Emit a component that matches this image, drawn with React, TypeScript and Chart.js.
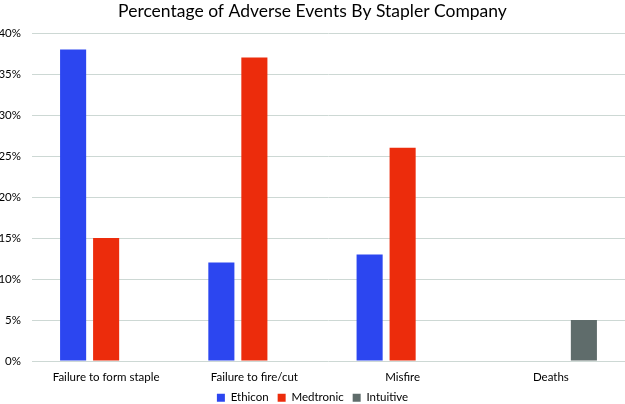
import React, { useEffect, useRef } from "react";
import { Chart, registerables } from "chart.js";

Chart.register(...registerables);

const categories = ["Failure to form staple", "Failure to fire/cut", "Misfire", "Deaths"];
const ethicon = [38, 12, 13, null];
const medtronic = [15, 37, 26, null];
const intuitive = [null, null, null, 5];
const yMin = 0;
const yMax = 40;
const yStep = 5;

const FONT = "Lato, 'Open Sans', sans-serif";

export default function App() {
  const ref = useRef<HTMLCanvasElement | null>(null);

  useEffect(() => {
    document.body.style.margin = "0";
    if (!ref.current) return;
    const chart = new Chart(ref.current, {
      type: "bar",
      data: {
        labels: categories,
        datasets: [
          { label: "Ethicon", data: ethicon, backgroundColor: "#2c46f0" },
          { label: "Medtronic", data: medtronic, backgroundColor: "#ec2c0c" },
          { label: "Intuitive", data: intuitive, backgroundColor: "#5f6c6b" },
        ],
      },
      options: {
        responsive: false,
        animation: false,
        maintainAspectRatio: false,
        layout: { padding: { left: 0, right: 0, top: 0, bottom: 0 } },
        datasets: {
          bar: { categoryPercentage: 0.668, barPercentage: 0.79 },
        },
        plugins: {
          title: {
            display: true,
            text: "Percentage of Adverse Events By Stapler Company",
            color: "#000",
            font: { family: FONT, size: 17.5, weight: "normal" },
            padding: { top: 1, bottom: 11 },
          },
          legend: {
            position: "bottom",
            maxHeight: 21,
            labels: {
              boxWidth: 8,
              boxHeight: 8,
              padding: 9,
              color: "#000",
              font: { family: FONT, size: 11.5 },
            },
          },
          tooltip: { enabled: false },
        },
        scales: {
          x: {
            grid: { display: false, drawTicks: false },
            border: { display: false },
            ticks: { color: "#000", font: { family: FONT, size: 11.5 }, padding: 9, maxRotation: 0 },
            afterFit: (s: any) => {
              s.height = 22;
            },
          },
          y: {
            min: yMin,
            max: yMax,
            ticks: {
              stepSize: yStep,
              color: "#000",
              font: { family: FONT, size: 11.5 },
              padding: 11,
              callback: (v: any) => v + "%",
            },
            grid: { color: "#cdd8d4", lineWidth: 1, drawTicks: false },
            border: { display: false },
            afterFit: (s: any) => {
              s.width = 32;
            },
          },
        },
      },
    });
    return () => chart.destroy();
  }, []);

  return (
    <div style={{ width: 625, height: 404 }}>
      <canvas ref={ref} width={625} height={404} style={{ display: "block" }} />
    </div>
  );
}
